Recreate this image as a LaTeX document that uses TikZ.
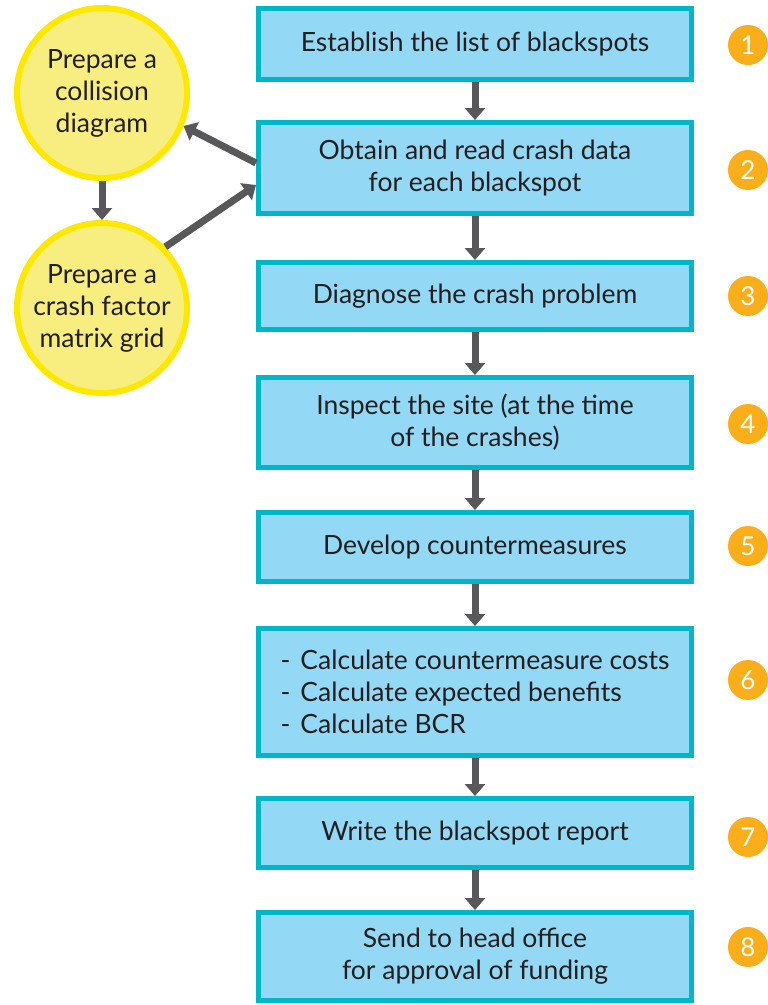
\documentclass[tikz,border=0pt]{standalone}
\usepackage{fontspec}
\setmainfont{Lato}
\usetikzlibrary{arrows.meta}
\definecolor{boxfill}{HTML}{93D8F5}
\definecolor{boxline}{HTML}{00B6C9}
\definecolor{cfill}{HTML}{F8EE80}
\definecolor{cline}{HTML}{FFE800}
\definecolor{numfill}{HTML}{F9AE1A}
\definecolor{arrowc}{HTML}{58585A}
\definecolor{txt}{HTML}{231F20}
\tikzset{
  stepbox/.style={draw=boxline, line width=5pt, fill=boxfill, minimum width=433pt,
    text=txt, font=\fontsize{26.5}{32}\selectfont, align=center, inner sep=0pt},
  idea/.style={circle, draw=cline, line width=6pt, fill=cfill, minimum size=170pt,
    text=txt, font=\fontsize{26.5}{32}\selectfont, align=center, inner sep=0pt},
  num/.style={circle, fill=numfill, minimum size=40pt, inner sep=0pt, text=white,
    font=\fontsize{26}{26}\selectfont\addfontfeatures{FakeBold=-0.3}},
  flow/.style={draw=arrowc, line width=7pt, -{Triangle[width=20pt,length=12pt]}}
}
\begin{document}
\begin{tikzpicture}[x=1pt,y=-1pt]
\useasboundingbox (0,0) rectangle (768,1005);
\node[stepbox, minimum height=71pt] (b1) at (475,44) {Establish the list of blackspots};
\node[stepbox, minimum height=91pt] (b2) at (475,168) {Obtain and read crash data\\for each blackspot};
\node[stepbox, minimum height=67pt] (b3) at (475,296) {Diagnose the crash problem};
\node[stepbox, minimum height=90pt] (b4) at (475,422.5) {Inspect the site (at the time\\of the crashes)};
\node[stepbox, minimum height=69pt] (b5) at (475,547) {Develop countermeasures};
\node[stepbox, minimum height=127pt, align=left] (b6) at (475,692) {-\hspace{10pt}Calculate countermeasure costs\\-\hspace{10pt}Calculate expected benefits\\-\hspace{10pt}Calculate BCR};
\node[stepbox, minimum height=69pt] (b7) at (475,833) {Write the blackspot report};
\node[stepbox, minimum height=88pt] (b8) at (475,956.5) {Send to head office\\for approval of funding};
\foreach \i/\y in {1/45,2/170,3/296,4/424,5/546,6/680,7/837,8/947}
  \node[num] (n\i) at (748,\y) {\i};
\node[idea] (c1) at (102,93) {Prepare a\\collision\\diagram};
\node[idea] (c2) at (102,308) {Prepare a\\crash factor\\matrix grid};
\foreach \a/\b in {b1/b2,b2/b3,b3/b4,b4/b5,b5/b6,b6/b7,b7/b8}
  \draw[flow] (\a.south) -- (\b.north);
\draw[flow] (c1.south) -- (c2.north);
\coordinate (p1) at ([yshift=5pt]b2.west);
\coordinate (p2) at ([yshift=-17pt]b2.west);
\draw[flow] (p1) -- (c1.-22);
\draw[flow] (c2.44) -- (p2);
\end{tikzpicture}
\end{document}
